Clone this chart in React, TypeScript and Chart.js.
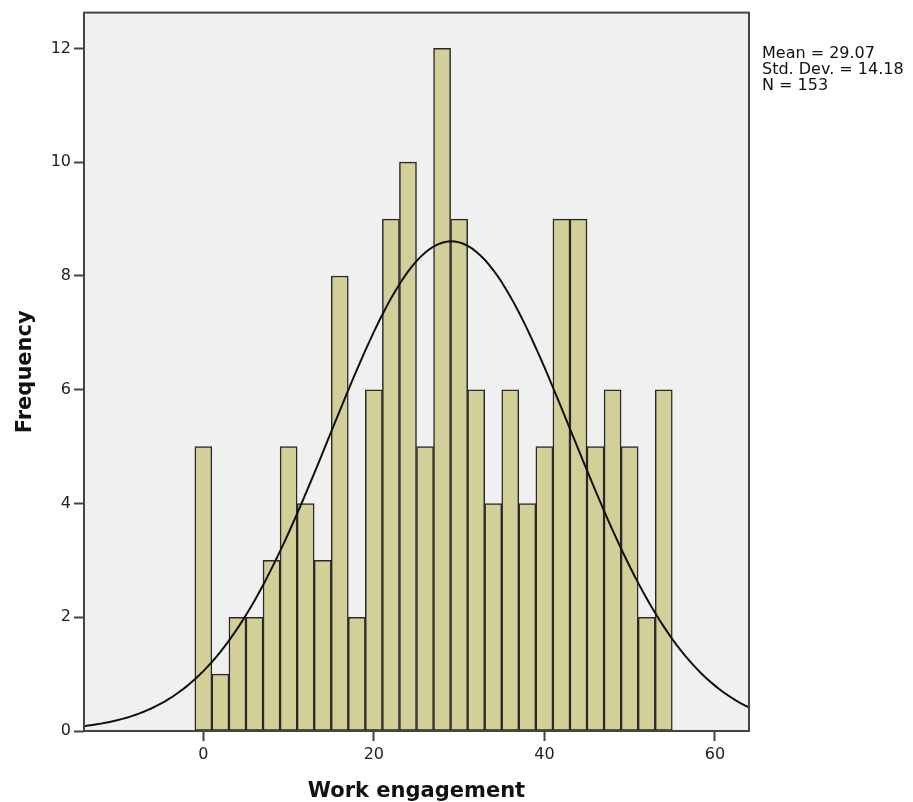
import React, { useEffect, useRef } from "react";
import { Chart, registerables } from "chart.js";

Chart.register(...registerables);

// Histogram bins (width 2), centers and counts
const binCenters = [0, 2, 4, 6, 8, 10, 12, 14, 16, 18, 20, 22, 24, 26, 28, 30, 32, 34, 36, 38, 40, 42, 44, 46, 48, 50, 52, 54];
const frequencies = [5, 1, 2, 2, 3, 5, 4, 3, 8, 2, 6, 9, 10, 5, 12, 9, 6, 4, 6, 4, 5, 9, 9, 5, 6, 5, 2, 6];
const xTicks = [0, 20, 40, 60];
const yTicks = [0, 2, 4, 6, 8, 10, 12];
const statsLines = ["Mean = 29.07", "Std. Dev. = 14.18", "N = 153"];
const mean = 29.07;
const stdDev = 14.18;
const nCount = 153;
const binWidth = 2;
const curveStart = -14;
const curveEnd = 64;

export default function App() {
  const canvasRef = useRef<HTMLCanvasElement | null>(null);

  useEffect(() => {
    document.body.style.margin = "0";
    const canvas = canvasRef.current;
    if (!canvas) return;

    const curve: { x: number; y: number }[] = [];
    for (let x = curveStart; x <= curveEnd + 1e-9; x += 0.5) {
      const z = (x - mean) / stdDev;
      const y = (nCount * binWidth) / (stdDev * Math.sqrt(2 * Math.PI)) * Math.exp(-0.5 * z * z);
      curve.push({ x, y });
    }

    const bgPlugin = {
      id: "plotBg",
      beforeDatasetsDraw(chart: any) {
        const { ctx, chartArea: a } = chart;
        ctx.save();
        ctx.fillStyle = "#f0f0f0";
        ctx.fillRect(a.left, a.top, a.right - a.left, a.bottom - a.top);
        ctx.restore();
      },
      afterDatasetsDraw(chart: any) {
        const { ctx, chartArea: a } = chart;
        ctx.save();
        ctx.strokeStyle = "#444444";
        ctx.lineWidth = 2;
        ctx.strokeRect(a.left, a.top, a.right - a.left, a.bottom - a.top);
        ctx.restore();
      },
    };

    const chart = new Chart(canvas, {
      type: "bar",
      data: {
        datasets: [
          {
            type: "line",
            data: curve,
            borderColor: "#111111",
            borderWidth: 2,
            pointRadius: 0,
            fill: false,
            order: 0,
          } as any,
          {
            type: "bar",
            data: binCenters.map((c, i) => ({ x: c, y: frequencies[i] })),
            backgroundColor: "#d3cf98",
            borderColor: "#2a2a2a",
            borderWidth: 1.5,
            borderSkipped: false,
            barPercentage: 1,
            categoryPercentage: 1,
            order: 1,
          } as any,
        ],
      },
      options: {
        animation: false,
        responsive: true,
        maintainAspectRatio: false,
        layout: { padding: { left: 0, right: 164, top: 11, bottom: 0 } },
        plugins: { legend: { display: false }, tooltip: { enabled: false } },
        scales: {
          x: {
            type: "linear",
            min: curveStart,
            max: curveEnd,
            offset: false,
            afterBuildTicks(scale: any) {
              scale.ticks = xTicks.map((v) => ({ value: v }));
            },
            afterFit(scale: any) {
              scale.height = 71;
            },
            grid: { offset: false, drawOnChartArea: false, drawTicks: true, tickLength: 10, tickColor: "#444444", tickWidth: 2 },
            border: { display: false },
            ticks: {
              padding: 4,
              color: "#222222",
              font: { family: "DejaVu Sans", size: 16 },
              maxRotation: 0,
            },
            title: {
              display: true,
              text: "Work engagement",
              color: "#111111",
              font: { family: "DejaVu Sans", size: 21, weight: "bold", lineHeight: 1 },
              padding: { top: 0, bottom: 0 },
            },
          },
          y: {
            type: "linear",
            min: 0,
            max: 12.63,
            afterBuildTicks(scale: any) {
              scale.ticks = yTicks.map((v) => ({ value: v }));
            },
            afterFit(scale: any) {
              scale.width = 84;
            },
            grid: { drawOnChartArea: false, drawTicks: true, tickLength: 10, tickColor: "#444444", tickWidth: 2 },
            border: { display: false },
            ticks: {
              padding: 3,
              color: "#222222",
              font: { family: "DejaVu Sans", size: 16 },
            },
            title: {
              display: true,
              text: "Frequency",
              color: "#111111",
              font: { family: "DejaVu Sans", size: 21, weight: "bold", lineHeight: 1 },
              padding: { top: 15, bottom: 0 },
            },
          },
        },
      },
      plugins: [bgPlugin],
    });

    return () => chart.destroy();
  }, []);

  return (
    <div style={{ position: "relative", width: 913, height: 802, background: "#ffffff" }}>
      <canvas ref={canvasRef} />
      <div
        style={{
          position: "absolute",
          left: 762,
          top: 45,
          fontFamily: "DejaVu Sans",
          fontSize: 16,
          lineHeight: "16px",
          color: "#111111",
          whiteSpace: "pre",
        }}
      >
        {statsLines.map((s, i) => (
          <div key={i}>{s}</div>
        ))}
      </div>
    </div>
  );
}
